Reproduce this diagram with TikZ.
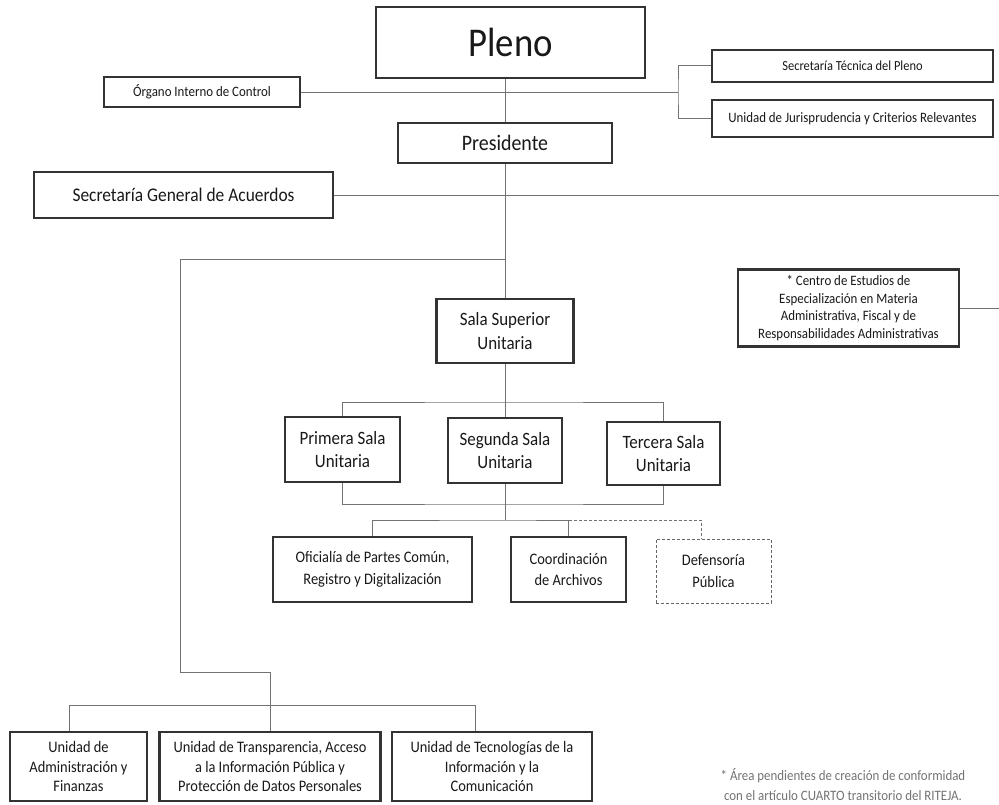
\documentclass[tikz,border=0pt]{standalone}
\usepackage{fontspec}
\setmainfont{Carlito}[FakeStretch=0.9]
\usetikzlibrary{positioning,calc}
\begin{document}
\begin{tikzpicture}[x=1bp,y=-1bp,caja/.style = {draw=black!80, line width=2.6bp, fill=white, align=center, inner sep=2bp, text=black!90},linea/.style = {draw=black!55, line width=1bp},]
\useasboundingbox (0,0) rectangle (999,805);
\fill[white] (0,0) rectangle (999,805);
\node (Pleno) at (510.5,42.5)[caja,minimum width=269bp,minimum height=71bp,font=\fontsize{41}{44}\selectfont] {Pleno};
\node (Organo) at (202,92)[caja,minimum width=196bp,minimum height=30bp,font=\fontsize{14.4}{16}\selectfont] {Órgano Interno de Control};
\node (Tecnica) at (852.5,66)[caja,minimum width=281bp,minimum height=32bp,font=\fontsize{13.9}{16}\selectfont] {Secretaría Técnica del Pleno};
\node (Jurisprudencia) at (852.5,118.5)[caja,minimum width=281bp,minimum height=37bp,font=\fontsize{14.4}{16}\selectfont] {Unidad de Jurisprudencia y Criterios Relevantes};
\node (Presidente) at (505,143)[caja,minimum width=214bp,minimum height=40bp,font=\fontsize{22.2}{25}\selectfont] {Presidente};
\node (SecGeneral) at (183.5,195)[caja,minimum width=299bp,minimum height=46bp,font=\fontsize{19.4}{22}\selectfont] {Secretaría General de Acuerdos};
\node (Centro) at (848.5,308)[caja,minimum width=221bp,minimum height=77bp,font=\fontsize{14.4}{17.5}\selectfont] {* Centro de Estudios de\\Especialización en Materia\\Administrativa, Fiscal y de\\Responsabilidades Administrativas};
\node (SalaSuperior) at (505,331)[caja,minimum width=137bp,minimum height=64bp,font=\fontsize{18.9}{23.5}\selectfont] {Sala Superior\\Unitaria};
\node (Primera) at (342.5,449.5)[caja,minimum width=115bp,minimum height=65bp,font=\fontsize{18.9}{23.5}\selectfont] {Primera Sala\\Unitaria};
\node (Segunda) at (505,450.5)[caja,minimum width=114bp,minimum height=65bp,font=\fontsize{18.9}{23.5}\selectfont] {Segunda Sala\\Unitaria};
\node (Tercera) at (663.5,453.5)[caja,minimum width=113bp,minimum height=63bp,font=\fontsize{18.9}{23.5}\selectfont] {Tercera Sala\\Unitaria};
\node (Oficialia) at (372.5,569.5)[caja,minimum width=199bp,minimum height=65bp,font=\fontsize{16.1}{21.5}\selectfont] {Oficialía de Partes Común,\\Registro y Digitalización};
\node (Coordinacion) at (568.5,569.5)[caja,minimum width=115bp,minimum height=65bp,font=\fontsize{16.1}{21.5}\selectfont] {Coordinación\\de Archivos};
\node (Defensoria) at (713.5,571)[caja,draw=black!60,line width=1bp,dash pattern=on 3bp off 2bp,minimum width=115bp,minimum height=64bp,font=\fontsize{16.1}{21.5}\selectfont] {Defensoría\\Pública};
\node (Administracion) at (78.5,766.5)[caja,minimum width=137bp,minimum height=69bp,font=\fontsize{16.1}{20}\selectfont] {Unidad de\\Administración y\\Finanzas};
\node (Transparencia) at (270,766.5)[caja,minimum width=221bp,minimum height=69bp,font=\fontsize{16.1}{20}\selectfont] {Unidad de Transparencia, Acceso\\a la Información Pública y\\Protección de Datos Personales};
\node (Tecnologias) at (492,766.5)[caja,minimum width=200bp,minimum height=69bp,font=\fontsize{16.1}{20}\selectfont] {Unidad de Tecnologías de la\\Información y la\\Comunicación};
\node (Nota) at (843,785)[align=center,text=black!55,font=\fontsize{14.4}{20}\selectfont] {* Área pendientes de creación de conformidad\\con el artículo CUARTO transitorio del RITEJA.};
\coordinate (RamaOrgano) at (678,92);
\coordinate (FinSecGeneral) at (999,195);
\coordinate (FinCentro) at (999,308);
\coordinate (RamaIzq) at (180,259);
\coordinate (CodoIzq) at (180,672);
\coordinate (RamaSalas) at (505,402);
\coordinate (CierreSalas) at (505,504);
\coordinate (RamaAreas) at (505,520);
\draw[linea] (Pleno.south -| Presidente.north)--(Presidente.north);
\draw[linea] (Organo.east)--(RamaOrgano);
\draw[linea] (Tecnica.west) -| (RamaOrgano) |- (Jurisprudencia.west);
\draw[linea] (SecGeneral.east)--(FinSecGeneral);
\draw[linea] (Centro.east)--(FinCentro);
\draw[linea] (Presidente.south)--(SalaSuperior.north);
\draw[linea] (Presidente.south |- RamaIzq)--(RamaIzq)--(CodoIzq) -| (Transparencia.north);
\draw[linea] ([xshift=-9.5bp]Administracion.north)--++(0,-25) -| ([xshift=-17bp]Tecnologias.north);
\draw[linea] (SalaSuperior.south)--(Segunda.north);
\draw[linea] (Primera.north) |- (RamaSalas) -| (Tercera.north);
\draw[linea] (Primera.south) |- (CierreSalas) -| (Tercera.south);
\draw[linea] (Segunda.south)--(RamaAreas);
\draw[linea] (Oficialia.north) |- (RamaAreas) -| (Coordinacion.north);
\draw[linea,dash pattern=on 3bp off 2bp] (Coordinacion.north |- RamaAreas) -| ([xshift=-12.5bp]Defensoria.north);
\end{tikzpicture}
\end{document}
